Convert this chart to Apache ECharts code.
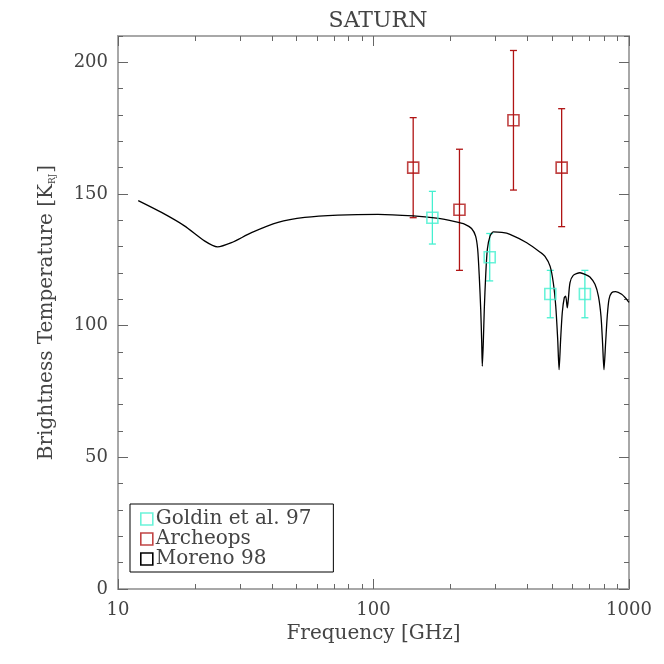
<!DOCTYPE html>
<html>
<head>
<meta charset="utf-8">
<script src="https://cdn.jsdelivr.net/npm/echarts@6/dist/echarts.min.js"></script>
<style>
  html, body { margin: 0; padding: 0; background: #fff; }
  #chart { width: 664px; height: 664px; }
</style>
</head>
<body>
<div id="chart"></div>
<script>
// 模型曲线 (Moreno 98): [频率 GHz, 亮温 K]
var morenoCurve = [
  [12, 147.5], [14.8, 143], [18.2, 137.9], [21.8, 132.2], [24.5, 129.9], [27.8, 131.5],
  [33.3, 135.3], [42.3, 139.2], [53.8, 141.1], [72.6, 142.0], [104, 142.3], [143, 141.7],
  [176.6, 140.8], [208.5, 139.5], [228, 138.5], [242, 136.9], [251, 134], [255.7, 129],
  [259.4, 118.8], [262.8, 106.2], [265.2, 93.5], [266.6, 84.6], [269, 93.5], [271.4, 106.2],
  [274.8, 118.8], [279, 129], [285.8, 134], [294.4, 135.6], [318, 135.4], [342, 134.7],
  [398, 131.5], [449, 127.9], [469, 126.3], [491, 122.6], [505.5, 116.3], [516.8, 107.4],
  [526, 94.7], [532.5, 83.3], [540, 94.7], [548, 104.9], [558, 110.6], [565, 111.2],
  [573.6, 106.8], [578.8, 110], [587.7, 116.3], [605, 119.1], [643, 120.1], [673, 119.5],
  [703, 118.5], [736, 115.7], [759, 111.2], [777, 103.6], [788, 93.5], [798, 83.3],
  [810, 93.5], [822, 103.6], [835, 110], [855, 112.5], [887, 112.9], [936, 111.9],
  [979, 110], [1000, 108.8]
];

// Goldin et al. 97
var goldinFreq = [170, 285, 492, 672];
var goldinTemp = [141, 126, 112, 112];
var goldinErr = [10, 9, 9, 9];

// Archeops
var archFreq = [143, 217, 353, 545];
var archTemp = [160, 144, 178, 160];
var archErr = [19, 23, 26.5, 22.4];

// 刻度
var xMajorTicks = [10, 100, 1000];
var xMinorTicks = [20, 30, 40, 50, 60, 70, 80, 90, 200, 300, 400, 500, 600, 700, 800, 900];
var yMajorTicks = [0, 50, 100, 150, 200];
var yMinorTicks = [10, 20, 30, 40, 60, 70, 80, 90, 110, 120, 130, 140, 160, 170, 180, 190, 210];

var FONT = 'DejaVu Serif';
var TEXT = '#444';
var FRAME = '#a8a8a8';
var TICK = '#666';
var GOLDIN = '#45f0d0';
var ARCH = '#b01414';

function pts(f, t) {
  return f.map(function (v, i) { return [v, t[i]]; });
}
function bars(f, t, e) {
  return f.map(function (v, i) { return [v, t[i] - e[i], t[i] + e[i]]; });
}

//误差棒
function renderErr(params, api) {
  var x = api.value(0);
  var p1 = api.coord([x, api.value(1)]);
  var p2 = api.coord([x, api.value(2)]);
  var w = 3.5;
  var st = { stroke: api.visual('color'), lineWidth: 1.3, fill: null };
  return {
    type: 'group',
    children: [
      { type: 'line', shape: { x1: p1[0], y1: p1[1], x2: p2[0], y2: p2[1] }, style: st },
      { type: 'line', shape: { x1: p1[0] - w, y1: p1[1], x2: p1[0] + w, y2: p1[1] }, style: st },
      { type: 'line', shape: { x1: p2[0] - w, y1: p2[1], x2: p2[0] + w, y2: p2[1] }, style: st }
    ]
  };
}

function xAxisOf(pos, ticks, len, labels) {
  return {
    type: 'log', logBase: 10, min: 10, max: 1000, position: pos,
    axisLine: { show: true, onZero: false, lineStyle: { color: FRAME, width: 2 } },
    axisTick: { show: true, inside: true, length: len, customValues: ticks, lineStyle: { color: TICK, width: 1 } },
    axisLabel: labels ? {
      show: true, customValues: xMajorTicks, margin: 12, color: TEXT, fontFamily: FONT, fontSize: 18,
      formatter: function (v) { return String(Math.round(v)); }
    } : { show: false },
    splitLine: { show: false },
    minorTick: { show: false }
  };
}
function yAxisOf(pos, ticks, len, labels) {
  return {
    type: 'value', min: 0, max: 210, position: pos,
    axisLine: { show: true, onZero: false, lineStyle: { color: FRAME, width: 2 } },
    axisTick: { show: true, inside: true, length: len, customValues: ticks, lineStyle: { color: TICK, width: 1 } },
    axisLabel: labels ? { show: true, customValues: yMajorTicks, margin: 10, color: TEXT, fontFamily: FONT, fontSize: 18 } : { show: false },
    splitLine: { show: false },
    minorTick: { show: false }
  };
}

var xMain = xAxisOf('bottom', xMajorTicks, 10, true);
xMain.name = 'Frequency [GHz]';
xMain.nameLocation = 'middle';
xMain.nameGap = 35;
xMain.nameTextStyle = { color: TEXT, fontFamily: FONT, fontSize: 20 };

var yMain = yAxisOf('left', yMajorTicks, 10, true);
yMain.name = 'Brightness Temperature [K{s|RJ}]';
yMain.nameLocation = 'middle';
yMain.nameGap = 61;
yMain.nameTextStyle = {
  color: TEXT, fontFamily: FONT, fontSize: 20,
  rich: { s: { fontSize: 9, fontFamily: FONT, color: TEXT, verticalAlign: 'bottom', padding: [0, 1, 0, 0] } }
};

var option = {
  animation: false,
  backgroundColor: '#fff',
  title: {
    text: 'SATURN', left: 373, top: 5, textAlign: 'center',
    textStyle: { color: TEXT, fontFamily: FONT, fontSize: 22, fontWeight: 'normal' }
  },
  grid: { left: 118, right: 35, top: 36, bottom: 75, containLabel: false, outerBoundsMode: 'none' },
  legend: {
    orient: 'vertical', left: 130, top: 504,
    padding: [5, 22, 3, 10], itemGap: 0, itemWidth: 12, itemHeight: 12,
    borderColor: '#000', borderWidth: 1, backgroundColor: '#fff',
    textStyle: { color: TEXT, fontFamily: FONT, fontSize: 20, lineHeight: 19, padding: [0, 0, 0, -2] },
    selectedMode: false,
    data: [
      { name: 'Goldin et al. 97', icon: 'rect', itemStyle: { color: 'rgba(0,0,0,0)', borderColor: GOLDIN, borderWidth: 1.6 } },
      { name: 'Archeops', icon: 'rect', itemStyle: { color: 'rgba(0,0,0,0)', borderColor: ARCH, borderWidth: 1.6 } },
      { name: 'Moreno 98', icon: 'rect', itemStyle: { color: 'rgba(0,0,0,0)', borderColor: '#000', borderWidth: 1.6 } }
    ]
  },
  xAxis: [
    xMain,
    xAxisOf('bottom', xMinorTicks, 5, false),
    xAxisOf('top', xMajorTicks, 10, false),
    xAxisOf('top', xMinorTicks, 5, false)
  ],
  yAxis: [
    yMain,
    yAxisOf('left', yMinorTicks, 5, false),
    yAxisOf('right', yMajorTicks, 10, false),
    yAxisOf('right', yMinorTicks, 5, false)
  ],
  series: [
    {
      name: 'Moreno 98', type: 'line', data: morenoCurve,
      showSymbol: false, symbol: 'none', smooth: 0.25,
      lineStyle: { color: '#000', width: 1.3 }, itemStyle: { color: '#000' }
    },
    {
      type: 'custom', renderItem: renderErr, data: bars(goldinFreq, goldinTemp, goldinErr),
      itemStyle: { color: GOLDIN }, z: 3, silent: true
    },
    {
      type: 'custom', renderItem: renderErr, data: bars(archFreq, archTemp, archErr),
      itemStyle: { color: ARCH }, z: 3, silent: true
    },
    {
      name: 'Goldin et al. 97', type: 'scatter', data: pts(goldinFreq, goldinTemp),
      symbol: 'rect', symbolSize: 11, z: 4,
      itemStyle: { color: 'rgba(0,0,0,0)', borderColor: GOLDIN, borderWidth: 1.6 }
    },
    {
      name: 'Archeops', type: 'scatter', data: pts(archFreq, archTemp),
      symbol: 'rect', symbolSize: 11, z: 4,
      itemStyle: { color: 'rgba(0,0,0,0)', borderColor: ARCH, borderWidth: 1.6 }
    }
  ]
};

var myChart = echarts.init(document.getElementById('chart'));
myChart.setOption(option);
</script>
</body>
</html>
